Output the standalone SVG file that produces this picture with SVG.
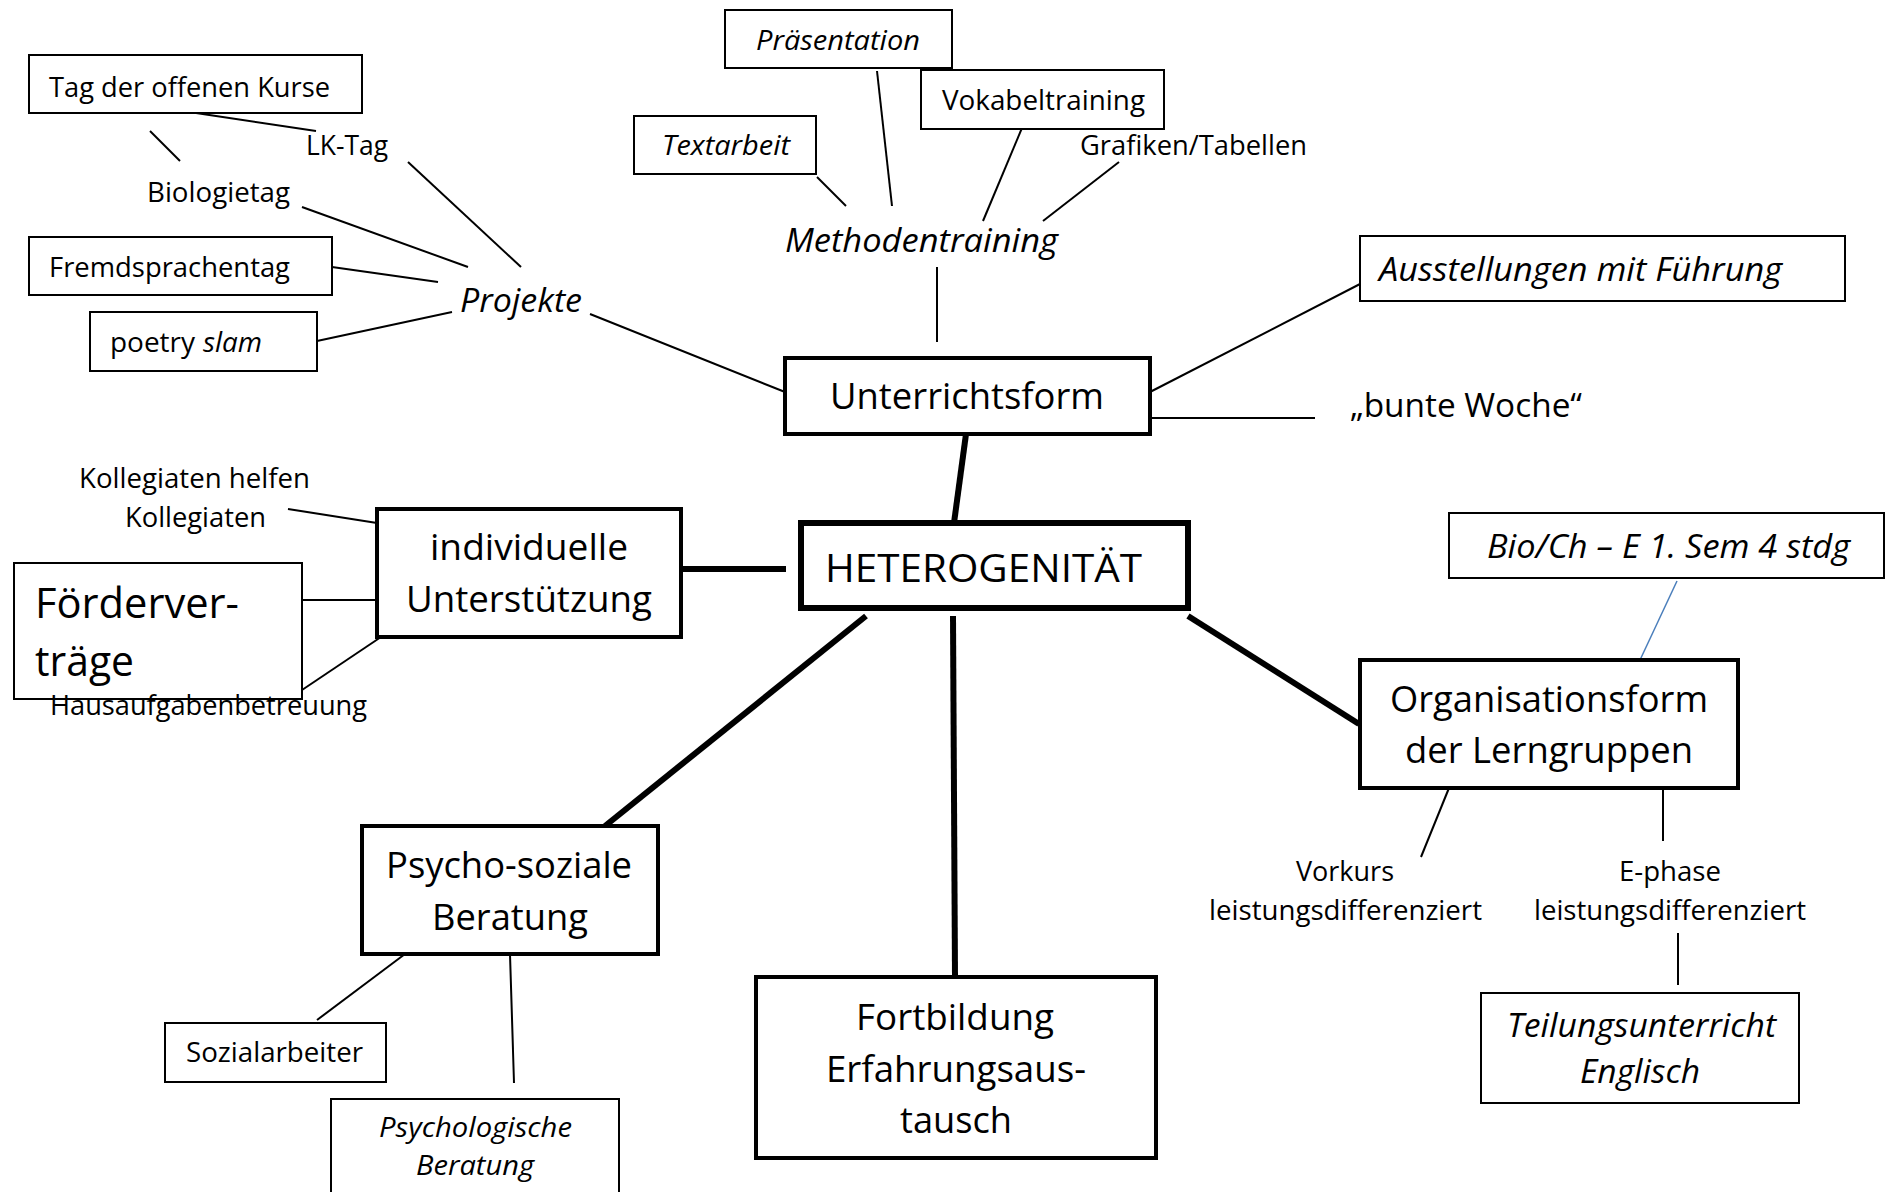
<svg xmlns="http://www.w3.org/2000/svg" width="1886" height="1192" viewBox="0 0 1886 1192">
<style>
text{font-family:"Open Sans","Noto Sans","DejaVu Sans",sans-serif;fill:#000}
.s{font-size:28px}
.m{font-size:33px}
.l{font-size:37px}
.i{font-style:italic}
.box{fill:#fff;stroke:#000;stroke-width:2}
.main{fill:#fff;stroke:#000;stroke-width:4}
.thin{stroke:#000;stroke-width:2;fill:none}
.thick{stroke:#000;stroke-width:6;fill:none}
</style>
<rect width="1886" height="1192" fill="#fff"/>
<g id="connectors">
<line class="thin" x1="196" y1="113" x2="316" y2="131"/>
<line class="thin" x1="150" y1="131" x2="180" y2="161"/>
<line class="thin" x1="408" y1="162" x2="521" y2="267"/>
<line class="thin" x1="302" y1="207" x2="468" y2="267"/>
<line class="thin" x1="332" y1="267" x2="438" y2="282"/>
<line class="thin" x1="317" y1="341" x2="452" y2="312"/>
<line class="thin" x1="590" y1="314" x2="785" y2="392"/>
<line class="thin" x1="877" y1="71" x2="892" y2="206"/>
<line class="thin" x1="1027" y1="116" x2="983" y2="221"/>
<line class="thin" x1="817" y1="177" x2="846" y2="206"/>
<line class="thin" x1="1119" y1="162" x2="1043" y2="221"/>
<line class="thin" x1="937" y1="267" x2="937" y2="342"/>
<line class="thin" x1="1150" y1="392" x2="1360" y2="284"/>
<line class="thin" x1="1150" y1="418" x2="1315" y2="418"/>
<line class="thin" x1="288" y1="509" x2="377" y2="523"/>
<line class="thin" x1="302" y1="600" x2="377" y2="600"/>
<line class="thin" x1="302" y1="690" x2="381" y2="637"/>
<line x1="1677" y1="581" x2="1640" y2="660" stroke="#4a7ebb" stroke-width="1.5"/>
<line class="thin" x1="1449" y1="788" x2="1421" y2="857"/>
<line class="thin" x1="1663" y1="782" x2="1663" y2="841"/>
<line class="thin" x1="1678" y1="933" x2="1678" y2="985"/>
<line class="thin" x1="405" y1="954" x2="317" y2="1020"/>
<line class="thin" x1="510" y1="954" x2="514" y2="1083"/>
<line class="thick" x1="966" y1="434" x2="954" y2="523"/>
<line class="thick" x1="681" y1="569" x2="786" y2="569"/>
<line class="thick" x1="866" y1="616" x2="605" y2="826"/>
<line class="thick" x1="953" y1="616" x2="955" y2="977"/>
<line class="thick" x1="1188" y1="616" x2="1359" y2="724"/>
</g>
<g id="n-tag"><rect class="box" x="29" y="55" width="333" height="58"/><text class="s" x="49" y="97" textLength="281" lengthAdjust="spacingAndGlyphs">Tag der offenen Kurse</text></g>
<g id="n-lktag"><text class="s" x="306" y="155" textLength="82" lengthAdjust="spacingAndGlyphs">LK-Tag</text></g>
<g id="n-biologietag"><text class="s" x="147" y="202" textLength="143" lengthAdjust="spacingAndGlyphs">Biologietag</text></g>
<g id="n-fremdsprachentag"><rect class="box" x="29" y="237" width="303" height="58"/><text class="s" x="49" y="277" textLength="241" lengthAdjust="spacingAndGlyphs">Fremdsprachentag</text></g>
<g id="n-poetry"><rect class="box" x="90" y="312" width="227" height="59"/><text class="s" x="110" y="352" textLength="85" lengthAdjust="spacingAndGlyphs">poetry</text><text class="s i" x="203" y="352" textLength="59" lengthAdjust="spacingAndGlyphs">slam</text></g>
<g id="n-projekte"><text class="m i" x="460" y="312" textLength="122" lengthAdjust="spacingAndGlyphs">Projekte</text></g>
<g id="n-praesentation"><rect class="box" x="725" y="10" width="227" height="58"/><text class="s i" x="756" y="50" textLength="164" lengthAdjust="spacingAndGlyphs">Präsentation</text></g>
<g id="n-vokabeltraining"><rect class="box" x="921" y="70" width="243" height="59"/><text class="s" x="942" y="110" textLength="203" lengthAdjust="spacingAndGlyphs">Vokabeltraining</text></g>
<g id="n-textarbeit"><rect class="box" x="634" y="116" width="182" height="58"/><text class="s i" x="662" y="155" textLength="128" lengthAdjust="spacingAndGlyphs">Textarbeit</text></g>
<g id="n-grafiken"><text class="s" x="1080" y="155" textLength="227" lengthAdjust="spacingAndGlyphs">Grafiken/Tabellen</text></g>
<g id="n-methodentraining"><text class="m i" x="785" y="252" textLength="273" lengthAdjust="spacingAndGlyphs">Methodentraining</text></g>
<g id="n-unterrichtsform"><rect class="main" x="785" y="358" width="365" height="76"/><text class="l" x="830" y="409" textLength="274" lengthAdjust="spacingAndGlyphs">Unterrichtsform</text></g>
<g id="n-ausstellungen"><rect class="box" x="1360" y="236" width="485" height="65"/><text class="m i" x="1379" y="281" textLength="403" lengthAdjust="spacingAndGlyphs">Ausstellungen mit Führung</text></g>
<g id="n-buntewoche"><text class="m" x="1350" y="417" textLength="232" lengthAdjust="spacingAndGlyphs">„bunte Woche“</text></g>
<g id="n-kollegiaten"><text class="s" x="79" y="488" textLength="231" lengthAdjust="spacingAndGlyphs">Kollegiaten helfen</text><text class="s" x="125" y="527" textLength="141" lengthAdjust="spacingAndGlyphs">Kollegiaten</text></g>
<g id="n-individuelle"><rect class="main" x="377" y="509" width="304" height="128"/><text class="l" x="430" y="560" textLength="198" lengthAdjust="spacingAndGlyphs">individuelle</text><text class="l" x="406" y="612" textLength="246" lengthAdjust="spacingAndGlyphs">Unterstützung</text></g>
<g id="n-foerdervertraege"><rect class="box" x="14" y="563" width="288" height="136"/><text x="35" y="618" font-size="42" textLength="204" lengthAdjust="spacingAndGlyphs">Förderver-</text><text x="35" y="676" font-size="42" textLength="99" lengthAdjust="spacingAndGlyphs">träge</text></g>
<g id="n-hausaufgaben"><text class="s" x="50" y="715" textLength="317" lengthAdjust="spacingAndGlyphs">Hausaufgabenbetreuung</text></g>
<g id="n-heterogenitaet"><rect fill="#fff" stroke="#000" stroke-width="6" x="801" y="523" width="387" height="85"/><text x="825" y="582" font-size="39" textLength="317" lengthAdjust="spacingAndGlyphs">HETEROGENITÄT</text></g>
<g id="n-biochem"><rect class="box" x="1449" y="513" width="435" height="65"/><text class="m i" x="1487" y="558" textLength="363" lengthAdjust="spacingAndGlyphs">Bio/Ch – E 1. Sem 4 stdg</text></g>
<g id="n-organisation"><rect class="main" x="1360" y="660" width="378" height="128"/><text class="l" x="1390" y="712" textLength="318" lengthAdjust="spacingAndGlyphs">Organisationsform</text><text class="l" x="1405" y="763" textLength="288" lengthAdjust="spacingAndGlyphs">der Lerngruppen</text></g>
<g id="n-vorkurs"><text class="s" x="1296" y="881" textLength="98" lengthAdjust="spacingAndGlyphs">Vorkurs</text><text class="s" x="1209" y="920" textLength="273" lengthAdjust="spacingAndGlyphs">leistungsdifferenziert</text></g>
<g id="n-ephase"><text class="s" x="1619" y="881" textLength="102" lengthAdjust="spacingAndGlyphs">E-phase</text><text class="s" x="1534" y="920" textLength="272" lengthAdjust="spacingAndGlyphs">leistungsdifferenziert</text></g>
<g id="n-teilung"><rect class="box" x="1481" y="993" width="318" height="110"/><text class="m i" x="1507" y="1037" textLength="269" lengthAdjust="spacingAndGlyphs">Teilungsunterricht</text><text class="m i" x="1580" y="1083" textLength="120" lengthAdjust="spacingAndGlyphs">Englisch</text></g>
<g id="n-psycho"><rect class="main" x="362" y="826" width="296" height="128"/><text class="l" x="386" y="878" textLength="246" lengthAdjust="spacingAndGlyphs">Psycho-soziale</text><text class="l" x="432" y="930" textLength="156" lengthAdjust="spacingAndGlyphs">Beratung</text></g>
<g id="n-sozialarbeiter"><rect class="box" x="165" y="1023" width="221" height="59"/><text class="s" x="186" y="1062" textLength="177" lengthAdjust="spacingAndGlyphs">Sozialarbeiter</text></g>
<g id="n-psychologische"><rect class="box" x="331" y="1099" width="288" height="110"/><text class="s i" x="379" y="1137" textLength="193" lengthAdjust="spacingAndGlyphs">Psychologische</text><text class="s i" x="416" y="1175" textLength="118" lengthAdjust="spacingAndGlyphs">Beratung</text></g>
<g id="n-fortbildung"><rect class="main" x="756" y="977" width="400" height="181"/><text class="l" x="856" y="1030" textLength="198" lengthAdjust="spacingAndGlyphs">Fortbildung</text><text class="l" x="826" y="1082" textLength="260" lengthAdjust="spacingAndGlyphs">Erfahrungsaus-</text><text class="l" x="900" y="1133" textLength="112" lengthAdjust="spacingAndGlyphs">tausch</text></g>
</svg>
